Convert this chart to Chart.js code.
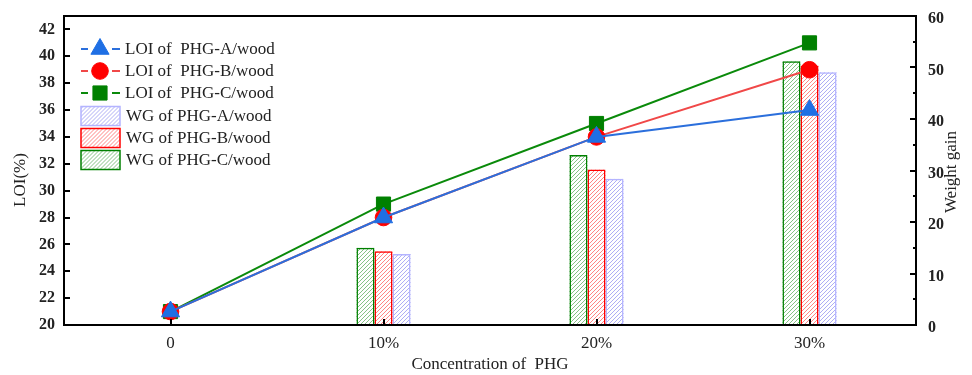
<!DOCTYPE html>
<html>
<head>
<meta charset="utf-8">
<script src="https://cdn.jsdelivr.net/npm/chart.js@4.4.0/dist/chart.umd.min.js"></script>
<style>
  html, body { margin: 0; padding: 0; background: #fff; }
  #wrap { width: 972px; height: 375px; }
</style>
</head>
<body>
<div id="wrap"><canvas id="loiChart"></canvas></div>
<script>
// values
const categories = ["0", "10%", "20%", "30%"];
const loiA = [21, 28, 34, 36];
const loiB = [21, 28, 34, 39];
const loiC = [21, 29, 35, 41];
const wgA = [0, 13.8, 28.4, 49.1];
const wgB = [0, 14.3, 30.2, 50.4];
const wgC = [0, 15.0, 33.0, 51.2];
const loiTicks = [20, 22, 24, 26, 28, 30, 32, 34, 36, 38, 40, 42];
const wgTicks = [0, 10, 20, 30, 40, 50, 60];
const wgMinorTicks = [5, 15, 25, 35, 45, 55];

const serif = "'Liberation Serif', 'DejaVu Serif', serif";

// diagonal "////" hatch inside a rectangle
function hatchRect(ctx, x, y, w, h, color) {
    if (h <= 0 || w <= 0) return;
    ctx.save();
    ctx.beginPath();
    ctx.rect(x, y, w, h);
    ctx.clip();
    ctx.strokeStyle = color;
    ctx.lineWidth = 1;
    ctx.beginPath();
    const bottom = y + h;
    const start = Math.floor((x - h) / 4) * 4;
    for (let sx = start; sx <= x + w; sx += 4) {
        ctx.moveTo(sx, bottom);
        ctx.lineTo(sx + h, bottom - h);
    }
    ctx.stroke();
    ctx.restore();
}

// hatch goes in before each bar dataset paints its border
const hatching = {
    id: "hatching",
    beforeDatasetDraw(chart, args) {
        const ds = chart.data.datasets[args.index];
        if (ds.type !== "bar") return;
        const { ctx } = chart;
        args.meta.data.forEach(el => {
            const p = el.getProps(["x", "y", "base", "width"], true);
            const top = Math.min(p.y, p.base);
            hatchRect(ctx, p.x - p.width / 2, top, p.width, Math.abs(p.base - p.y), ds.hatchColor);
        });
    }
};

function verticalTitle(ctx, text, x, y) {
    ctx.save();
    ctx.fillStyle = "#222";
    ctx.font = "17px " + serif;
    ctx.textAlign = "center";
    ctx.textBaseline = "middle";
    ctx.translate(x, y);
    ctx.rotate(-Math.PI / 2);
    ctx.fillText(text, 0, 0);
    ctx.restore();
}

// inward ticks, box frame, axis titles and Origin-style legend
const decorations = {
    id: "decorations",
    afterDraw(chart) {
        const { ctx, chartArea: a, scales } = chart;
        ctx.save();
        ctx.strokeStyle = "#000";
        ctx.lineWidth = 2;
        ctx.strokeRect(a.left, a.top, a.right - a.left, a.bottom - a.top);

        ctx.beginPath();
        loiTicks.forEach(v => {
            const y = Math.round(scales.y.getPixelForValue(v));
            ctx.moveTo(a.left, y); ctx.lineTo(a.left + 6, y);
        });
        wgTicks.forEach(v => {
            const y = Math.round(scales.y1.getPixelForValue(v));
            ctx.moveTo(a.right, y); ctx.lineTo(a.right - 6, y);
        });
        wgMinorTicks.forEach(v => {
            const y = Math.round(scales.y1.getPixelForValue(v));
            ctx.moveTo(a.right, y); ctx.lineTo(a.right - 3, y);
        });
        categories.forEach((c, i) => {
            const x = Math.round(scales.x.getPixelForTick(i));
            ctx.moveTo(x, a.bottom); ctx.lineTo(x, a.bottom - 6);
        });
        ctx.stroke();
        ctx.restore();

        verticalTitle(ctx, "LOI(%)", 21, 180);
        verticalTitle(ctx, "Weight gain", 952, 172);

        // legend
        const ds = chart.data.datasets;
        const rows = [
            { d: ds[0], y: 49 }, { d: ds[1], y: 71 }, { d: ds[2], y: 93 },
            { d: ds[5], y: 116 }, { d: ds[4], y: 138 }, { d: ds[3], y: 160 }
        ];
        ctx.save();
        ctx.font = "17px " + serif;
        ctx.textAlign = "left";
        ctx.textBaseline = "middle";
        rows.forEach(r => {
            const d = r.d;
            if (d.type === "line") {
                ctx.strokeStyle = d.borderColor;
                ctx.lineWidth = 2;
                ctx.beginPath();
                ctx.moveTo(81, r.y); ctx.lineTo(88, r.y);
                ctx.moveTo(112, r.y); ctx.lineTo(120, r.y);
                ctx.stroke();
                ctx.fillStyle = d.pointBackgroundColor;
                ctx.strokeStyle = d.pointBorderColor;
                ctx.lineWidth = 1;
                Chart.helpers.drawPoint(ctx, {
                    pointStyle: d.pointStyle, radius: d.pointRadius, rotation: 0, borderWidth: 1
                }, 100, r.y);
                ctx.fillStyle = "#222";
                ctx.fillText(d.label, 125, r.y + 1);
            } else {
                hatchRect(ctx, 81, r.y - 9.5, 39, 19, d.hatchColor);
                ctx.strokeStyle = d.borderColor;
                ctx.lineWidth = 1.5;
                ctx.strokeRect(81, r.y - 9.5, 39, 19);
                ctx.fillStyle = "#222";
                ctx.fillText(d.label, 126, r.y + 1);
            }
        });
        ctx.restore();
    }
};

const noEdgePadding = s => { s.paddingTop = 0; s.paddingBottom = 0; };

new Chart(document.getElementById("loiChart"), {
    data: {
        labels: categories,
        datasets: [
            {
                type: "line", label: "LOI of  PHG-A/wood", data: loiA, yAxisID: "y",
                borderColor: "#2b6fdc", borderWidth: 2,
                pointStyle: "triangle", pointRadius: 10.5,
                pointBackgroundColor: "#1f6fe4", pointBorderColor: "#1f6fe4", pointBorderWidth: 1
            },
            {
                type: "line", label: "LOI of  PHG-B/wood", data: loiB, yAxisID: "y",
                borderColor: "#f04848", borderWidth: 2,
                pointStyle: "circle", pointRadius: 8.3,
                pointBackgroundColor: "#ff0000", pointBorderColor: "#ff0000", pointBorderWidth: 1
            },
            {
                type: "line", label: "LOI of  PHG-C/wood", data: loiC, yAxisID: "y",
                borderColor: "#0a8a0a", borderWidth: 2,
                pointStyle: "rect", pointRadius: 10,
                pointBackgroundColor: "#008000", pointBorderColor: "#008000", pointBorderWidth: 1
            },
            {
                type: "bar", label: "WG of PHG-C/wood", data: wgC, yAxisID: "y1",
                hatchColor: "#86c286", backgroundColor: "rgba(0,0,0,0)",
                borderColor: "#008000", borderWidth: 1.5,
                barPercentage: 1, categoryPercentage: 0.254
            },
            {
                type: "bar", label: "WG of PHG-B/wood", data: wgB, yAxisID: "y1",
                hatchColor: "#ff8585", backgroundColor: "rgba(0,0,0,0)",
                borderColor: "#ff0000", borderWidth: 1.5,
                barPercentage: 1, categoryPercentage: 0.254
            },
            {
                type: "bar", label: "WG of PHG-A/wood", data: wgA, yAxisID: "y1",
                hatchColor: "#aeaef4", backgroundColor: "rgba(0,0,0,0)",
                borderColor: "#b4b4ff", borderWidth: 1.5,
                barPercentage: 1, categoryPercentage: 0.254
            }
        ]
    },
    options: {
        responsive: true,
        maintainAspectRatio: false,
        animation: false,
        layout: { padding: { top: 16, left: 0, right: 0, bottom: 0 } },
        scales: {
            x: {
                offset: true,
                grid: { display: false, drawTicks: false },
                border: { display: false },
                ticks: { color: "#222", padding: 8, font: { family: serif, size: 17 } },
                title: {
                    display: true, text: "Concentration of  PHG", color: "#222",
                    font: { family: serif, size: 17 }, padding: { top: 0, bottom: 0 }
                },
                afterFit: s => { s.height = 50; }
            },
            y: {
                position: "left",
                min: 20, max: 43,
                grid: { display: false, drawTicks: false },
                border: { display: false },
                afterBuildTicks: s => { s.ticks = loiTicks.map(v => ({ value: v })); },
                ticks: { color: "#222", padding: 9, font: { family: serif, size: 16, weight: "bold" } },
                afterFit: s => { s.width = 64; noEdgePadding(s); }
            },
            y1: {
                position: "right",
                min: 0, max: 60,
                grid: { display: false, drawTicks: false },
                border: { display: false },
                afterBuildTicks: s => { s.ticks = wgTicks.map(v => ({ value: v })); },
                ticks: { color: "#222", padding: 12, labelOffset: 3, font: { family: serif, size: 16, weight: "bold" } },
                afterFit: s => { s.width = 56; noEdgePadding(s); }
            }
        },
        plugins: {
            legend: { display: false },
            tooltip: { enabled: false },
            title: { display: false }
        }
    },
    plugins: [hatching, decorations]
});
</script>
</body>
</html>
